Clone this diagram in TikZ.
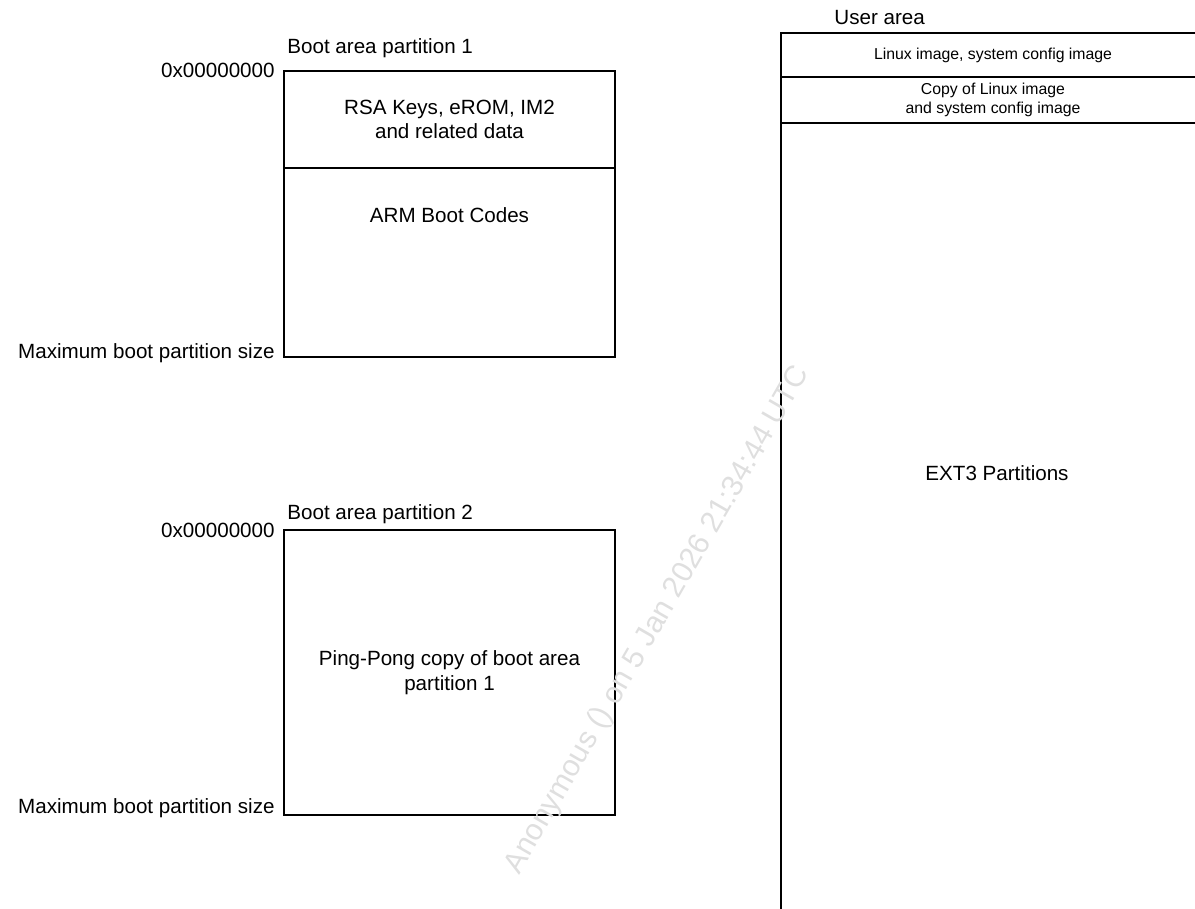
\documentclass[tikz,border=0pt]{standalone}
\usepackage{fontspec}
\setmainfont{Liberation Sans}
\begin{document}
\begin{tikzpicture}[x=0.5pt,y=-0.5pt,
  part/.style={draw=black, line width=0.75pt, inner sep=0pt, align=center, font=\fontsize{10.3}{12.4}\selectfont},
  upart/.style={draw=black, line width=0.75pt, inner sep=0pt, align=center, font=\fontsize{7.9}{9.2}\selectfont},
  lbl/.style={inner sep=0pt, font=\fontsize{10.3}{12.4}\selectfont},
  wmark/.style={gray!25, inner sep=0pt, font=\fontsize{15}{18}\selectfont}]
\useasboundingbox (0,0) rectangle (1195,909);
\clip (0,0) rectangle (1195,909);
% boot area partition 1
\node[part, minimum width=165.5pt, minimum height=48.5pt] (b1a) at (449.5,119.5) {RSA Keys, eROM, IM2\\and related data};
\node[part, minimum width=165.5pt, minimum height=94.5pt] (b1b) at (449.5,262.5) {};
\node[lbl] (arm) at (449.5,215) {ARM Boot Codes};
\node[lbl, anchor=west] (t1) at (287,48) {Boot area partition 1};
\node[lbl, anchor=east] (z1) at (275,70) {0x00000000};
\node[lbl, anchor=east] (m1) at (275,353) {Maximum boot partition size};
% boot area partition 2
\node[part, minimum width=165.5pt, minimum height=142.5pt] (b2) at (449.5,672.5) {Ping-Pong copy of boot area\\partition 1};
\node[lbl, anchor=west] (t2) at (287,514) {Boot area partition 2};
\node[lbl, anchor=east] (z2) at (275,530) {0x00000000};
\node[lbl, anchor=east] (m2) at (275,808) {Maximum boot partition size};
% user area
\node[lbl, anchor=west] (ua) at (834,18) {User area};
\node[upart, minimum width=212pt, minimum height=22pt] (u1) at (993,55) {Linux image, system config image};
\node[upart, minimum width=212pt, minimum height=23pt] (u2) at (993,100) {Copy of Linux image\\and system config image};
\node[part, minimum width=212pt, minimum height=450pt] (u3) at (993,573) {};
\node[lbl] (ext) at (997,473) {EXT3 Partitions};
% watermark
\node[wmark, rotate=60] (wm) at (658,620) {Anonymous () on 5 Jan 2026 21:34:44 UTC};
\end{tikzpicture}
\end{document}
